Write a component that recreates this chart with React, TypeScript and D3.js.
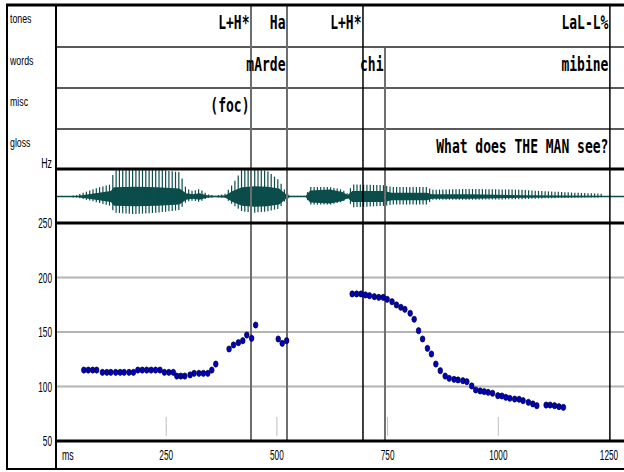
import React from "react";
import * as d3 from "d3";

const W = 624;
const H = 472;

// ---- tiers ----
const tierNames = ["tones", "words", "misc", "gloss"];
const toneTimes = [441.5, 522.8, 694.4, 1252];
const toneLabels = ["L+H*", "Ha", "L+H*", "LaL-L%"];
const wordTimes = [441.5, 522.8, 694.4, 744.1, 1252];
const wordLabels = ["", "mArde", "", "chi", "mibine"];
const miscTimes = [441.5];
const miscLabels = ["(foc)"];
const glossTimes = [1252];
const glossLabels = ["What does THE MAN see?"];
const darkBoundaries = [694.4, 1252];

// ---- axes ----
const xTicks = [250, 500, 750, 1000, 1250];
const yTicks = [50, 100, 150, 200, 250];
const yGrid = [100, 150, 200];

// ---- F0 track (ms, Hz) ----
const f0Times = [
  64, 74, 84, 93, 106, 116, 125, 136, 146, 155, 166, 176, 186, 196, 206, 216, 226, 236, 246, 256,
  266, 274, 283, 292, 304, 313, 324, 334, 344, 353, 362, 392, 402, 413, 423, 432, 443, 452, 503, 512, 522,
  670, 680, 690, 700, 709, 720, 730, 740, 749, 760, 770, 780, 789, 801, 810, 820, 829, 840, 849, 859,
  869, 880, 889, 900, 909, 920, 929, 940, 949, 959, 968, 977, 987, 999, 1008, 1017, 1026, 1037, 1047,
  1056, 1068, 1078, 1087, 1108, 1117, 1127, 1137, 1147,
];
const f0Values = [
  115.1, 115.1, 115.1, 115.1, 113.0, 113.0, 113.0, 113.0, 113.0, 113.0, 113.0, 113.0, 115.1, 115.1, 115.1,
  115.1, 115.1, 115.1, 113.0, 113.0, 113.0, 109.6, 109.6, 109.6, 110.6, 112.1, 112.1, 112.1, 112.1, 115.1,
  120.6, 134.4, 138.1, 140.2, 142.0, 147.2, 144.2, 156.4, 143.6, 139.6, 142.0,
  184.9, 184.9, 184.9, 184.0, 183.3, 182.4, 181.8, 181.8, 180.0, 177.8, 174.8, 172.7, 170.8, 167.2, 161.7,
  151.2, 143.6, 135.0, 129.8, 120.6, 114.5, 109.6, 107.5, 106.6, 106.0, 105.3, 104.4, 100.5, 96.8, 95.9,
  95.3, 94.7, 93.8, 91.6, 91.3, 90.1, 89.2, 88.5, 88.3, 87.0, 85.5, 84.0, 82.4, 83.0, 83.0, 82.4, 81.5, 80.9,
];

// ---- waveform envelope (ms, relative amplitude) ----
const waveTimes = [
  0, 48, 90, 125, 132, 180, 230, 280, 295, 310, 325, 344, 360, 383, 400, 421, 450, 478, 505, 521, 530,
  565, 575, 620, 648, 660, 670, 740, 760, 839, 850, 936, 1049, 1100, 1162, 1236, 1240, 1400,
];
const waveBody = [
  0, 0.02, 0.12, 0.2, 0.34, 0.36, 0.34, 0.3, 0.12, 0.08, 0.12, 0.04, 0.02, 0.04, 0.2, 0.34, 0.38, 0.36,
  0.3, 0.08, 0.02, 0.02, 0.22, 0.26, 0.17, 0.06, 0.2, 0.2, 0.14, 0.14, 0.08, 0.08, 0.05, 0.04, 0.03, 0.02, 0, 0,
];
const waveUp = [
  0, 0.05, 0.3, 0.45, 1.0, 1.0, 1.0, 0.9, 0.3, 0.2, 0.28, 0.08, 0.03, 0.1, 0.45, 1.0, 1.0, 0.95, 0.6,
  0.15, 0.03, 0.03, 0.35, 0.35, 0.25, 0.1, 0.45, 0.42, 0.35, 0.35, 0.25, 0.28, 0.25, 0.2, 0.15, 0.1, 0, 0,
];
const waveDown = [
  0, 0.04, 0.2, 0.35, 0.6, 0.65, 0.6, 0.5, 0.2, 0.15, 0.2, 0.05, 0.02, 0.05, 0.3, 0.55, 0.6, 0.55, 0.45,
  0.1, 0.02, 0.02, 0.3, 0.3, 0.2, 0.08, 0.4, 0.35, 0.3, 0.3, 0.12, 0.12, 0.1, 0.07, 0.05, 0.03, 0, 0,
];

export default function App() {
  const left = 56;
  const right = 624;
  const rowTops = [5, 47, 88, 129, 169];
  const waveTop = 169;
  const waveBot = 223;
  const pitchBot = 441;
  const bottom = 469;
  const waveMid = 196.5;
  const waveHalf = 27;

  const x = d3.scaleLinear().domain([0, 1250]).range([55.5, 609]);
  const y = d3.scaleLinear().domain([50, 250]).range([pitchBot, waveBot]);

  const tiers = [
    { times: toneTimes, labels: toneLabels },
    { times: wordTimes, labels: wordLabels },
    { times: miscTimes, labels: miscLabels },
    { times: glossTimes, labels: glossLabels },
  ];

  const boundaryStart = new Map<number, number>();
  tiers.forEach((tr, i) => {
    tr.times.forEach((t) => {
      if (!boundaryStart.has(t)) boundaryStart.set(t, i);
    });
  });

  const upS = d3.scaleLinear().domain(waveTimes).range(waveUp).clamp(true);
  const downS = d3.scaleLinear().domain(waveTimes).range(waveDown).clamp(true);
  const spikes: { px: number; u: number; d: number }[] = [];
  for (let px = x(40); px < x(1240); px += 3.3) {
    const t = x.invert(px);
    spikes.push({ px, u: upS(t), d: downS(t) });
  }
  const bodyData = waveTimes.map((t, i) => ({ t, a: waveBody[i] }));
  const area = d3
    .area<{ t: number; a: number }>()
    .x((d) => x(d.t))
    .y0((d) => waveMid - d.a * waveHalf)
    .y1((d) => waveMid + d.a * waveHalf);

  const teal = "#0b4d4b";
  const monoFont = "'DejaVu Sans Mono', monospace";
  const sansFont = "'Liberation Sans', Arial, sans-serif";

  return (
    <svg width={W} height={H} style={{ position: "absolute", left: 0, top: 0, background: "#fff" }}>
      <rect x={0} y={0} width={W} height={H} fill="#fff" />

      {yGrid.map((v) => (
        <line key={v} x1={left + 1} x2={right} y1={y(v)} y2={y(v)} stroke="#b4b4b4" strokeWidth={2} />
      ))}

      {xTicks.slice(0, 4).map((t) => (
        <line key={t} x1={x(t)} x2={x(t)} y1={417} y2={436} stroke="#bdbdbd" strokeWidth={1} />
      ))}

      {rowTops.slice(1, 4).map((r) => (
        <line key={r} x1={left} x2={right} y1={r} y2={r} stroke="#5a5a5a" strokeWidth={2} />
      ))}

      {/* waveform */}
      <line x1={left + 1} x2={right} y1={waveMid} y2={waveMid} stroke={teal} strokeWidth={1.5} />
      <path d={area(bodyData) || ""} fill={teal} />
      {spikes.map((s, i) => (
        <line
          key={i}
          x1={s.px}
          x2={s.px}
          y1={waveMid - s.u * waveHalf}
          y2={waveMid + s.d * waveHalf}
          stroke={teal}
          strokeWidth={1.2}
        />
      ))}

      {Array.from(boundaryStart.entries()).map(([t, ti]) => {
        const dark = darkBoundaries.includes(t);
        return (
          <line
            key={t}
            x1={x(t)}
            x2={x(t)}
            y1={rowTops[ti] + (ti === 0 ? 0 : 1)}
            y2={pitchBot}
            stroke={dark ? "#000" : "#6e6e6e"}
            strokeWidth={dark ? 1.5 : 2}
          />
        );
      })}

      {tiers.map((tr, i) =>
        tr.labels.map((lab, j) =>
          lab ? (
            <text
              key={`${i}-${j}`}
              transform={`translate(${x(tr.times[j]) - 1.5},${rowTops[i] + 24}) scale(1,1.45)`}
              textAnchor="end"
              fontFamily={monoFont}
              fontSize={13}
              fontWeight="bold"
              fill="#000"
            >
              {lab}
            </text>
          ) : null
        )
      )}

      {f0Times.map((t, i) => (
        <ellipse
          key={i}
          cx={x(t)}
          cy={y(f0Values[i])}
          rx={2.3}
          ry={3.1}
          fill="#0000c0"
          stroke="#000030"
          strokeWidth={0.7}
        />
      ))}

      <line x1={6} x2={right} y1={5} y2={5} stroke="#000" strokeWidth={3} />
      <line x1={left - 1} x2={right} y1={waveTop} y2={waveTop} stroke="#000" strokeWidth={3} />
      <line x1={left - 1} x2={right} y1={waveBot} y2={waveBot} stroke="#000" strokeWidth={3} />
      <line x1={left - 1} x2={right} y1={pitchBot} y2={pitchBot} stroke="#000" strokeWidth={3} />
      <line x1={6} x2={right} y1={bottom} y2={bottom} stroke="#000" strokeWidth={2} />
      <line x1={7} x2={7} y1={4} y2={bottom + 1} stroke="#000" strokeWidth={2} />
      <line x1={left} x2={left} y1={4} y2={bottom + 1} stroke="#000" strokeWidth={2} />

      {tierNames.map((n, i) => (
        <text
          key={n}
          transform={`translate(10,${rowTops[i] + 18}) scale(0.8,1.2)`}
          fontFamily={sansFont}
          fontSize={11}
          fill="#000"
        >
          {n}
        </text>
      ))}

      <text
        transform={`translate(52,${waveTop - 1}) scale(0.8,1.3)`}
        textAnchor="end"
        fontFamily={sansFont}
        fontSize={11}
      >
        Hz
      </text>
      {yTicks.map((v) => (
        <text
          key={v}
          transform={`translate(52,${y(v) + 5}) scale(0.75,1.35)`}
          textAnchor="end"
          fontFamily={sansFont}
          fontSize={11}
        >
          {v}
        </text>
      ))}

      <text transform={`translate(62,460) scale(0.8,1.3)`} fontFamily={sansFont} fontSize={11}>
        ms
      </text>
      {xTicks.map((t) => (
        <text
          key={t}
          transform={`translate(${x(t)},460) scale(0.75,1.35)`}
          textAnchor="middle"
          fontFamily={sansFont}
          fontSize={11}
        >
          {t}
        </text>
      ))}
    </svg>
  );
}
